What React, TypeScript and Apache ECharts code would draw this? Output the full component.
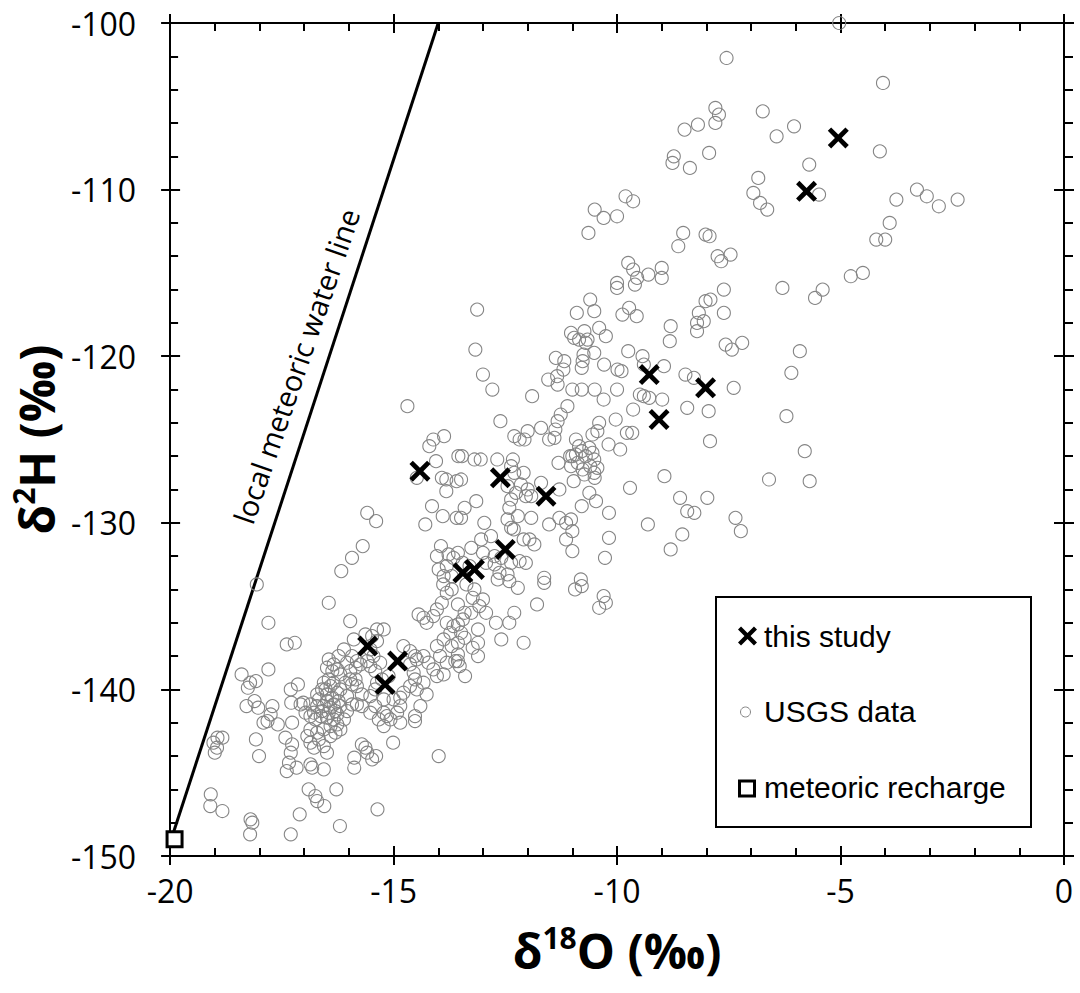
import React, { useEffect, useRef } from "react";
import * as echarts from "echarts";

// ---- data ----
const xRange = [-20, 0];
const yRange = [-150, -100];

const thisStudy: number[][] = [
  [-5.05, -106.9], [-5.76, -110.1], [-9.28, -121.1], [-8.02, -121.9], [-9.06, -123.8],
  [-14.41, -126.9], [-12.61, -127.3], [-11.59, -128.4], [-12.5, -131.6], [-13.19, -132.8],
  [-13.45, -133.0], [-15.58, -137.4], [-14.91, -138.3], [-15.19, -139.7],
];

const meteoricRecharge: number[][] = [[-19.9, -149.0]];

const lmwl: number[][] = [[-20, -149.2], [-14, -100]];

const usgsData: number[][] = [
  [-7.55, -102.1], [-7.8, -105.1], [-7.72, -105.5], [-7.8, -106.0], [-8.19, -106.1], [-8.49, -106.4],
  [-8.73, -108.0], [-8.76, -108.4], [-8.37, -108.7], [-7.94, -107.8], [-9.81, -110.4], [-9.64, -110.7],
  [-10.5, -111.2], [-10.3, -111.7], [-10.0, -111.6], [-10.64, -112.6], [-8.52, -112.6], [-8.63, -113.4],
  [-8.02, -112.7], [-7.93, -112.8], [-7.46, -113.9], [-7.75, -114.0], [-7.67, -114.3], [-9.75, -114.4],
  [-9.64, -114.8], [-9.55, -115.3], [-9.3, -115.1], [-9.0, -114.7], [-9.0, -115.3], [-10.0, -115.6],
  [-10.0, -115.9], [-9.6, -115.7], [-7.61, -116.0], [-10.6, -116.6], [-7.91, -116.6], [-8.02, -116.7],
  [-5.03, -100.0], [-4.05, -103.6], [-6.74, -105.3], [-6.04, -106.2], [-6.43, -106.8], [-4.12, -107.7],
  [-5.7, -108.5], [-6.84, -109.3], [-6.95, -110.2], [-6.8, -110.8], [-6.64, -111.2], [-5.48, -110.3],
  [-3.29, -110.0], [-3.07, -110.4], [-2.8, -111.0], [-2.38, -110.6], [-3.75, -110.6], [-3.9, -112.0],
  [-4.2, -113.0], [-4.0, -113.0], [-4.77, -115.2], [-4.5, -115.0], [-6.3, -115.9], [-5.4, -116.0],
  [-5.57, -116.5], [-5.91, -119.7], [-6.1, -121.0], [-6.21, -123.6], [-5.8, -125.7], [-6.6, -127.4],
  [-5.69, -127.5],
  [-13.13, -117.2], [-10.9, -117.4], [-10.51, -117.3], [-9.88, -117.5], [-9.73, -117.1], [-9.56, -117.6],
  [-8.17, -117.4], [-7.61, -117.4], [-8.21, -118.0], [-8.06, -117.9], [-8.21, -118.5], [-8.8, -118.2],
  [-8.82, -119.1], [-7.57, -119.3], [-7.43, -119.6], [-7.2, -119.2], [-13.17, -119.6], [-11.03, -118.6],
  [-10.96, -118.9], [-10.85, -119.0], [-10.73, -118.5], [-10.66, -119.0], [-10.7, -119.2], [-10.4, -118.3],
  [-10.25, -118.8], [-10.51, -119.8], [-10.75, -119.9], [-10.77, -120.3], [-10.79, -120.7], [-11.37, -120.1],
  [-11.18, -120.3], [-11.2, -120.8], [-11.34, -121.2], [-11.54, -121.4], [-11.33, -121.7], [-10.29, -120.5],
  [-9.99, -120.8], [-9.9, -120.9], [-9.75, -119.7], [-9.43, -120.0], [-9.4, -120.5], [-8.95, -120.6],
  [-8.47, -121.1], [-8.28, -121.3], [-7.39, -121.9], [-13.0, -121.1], [-12.79, -122.0], [-11.9, -122.4],
  [-11.0, -122.0], [-10.79, -122.0], [-10.5, -122.0], [-10.3, -122.6], [-10.0, -122.0], [-9.49, -122.3],
  [-9.4, -122.4], [-9.28, -122.5], [-8.99, -122.6], [-9.64, -123.2], [-10.03, -123.8], [-8.43, -123.1],
  [-7.95, -123.3], [-7.92, -125.1], [-11.11, -123.0], [-11.26, -123.5], [-11.33, -123.9], [-12.61, -123.9],
  [-11.7, -124.3], [-12.0, -124.5], [-12.3, -124.8], [-12.18, -125.0], [-12.07, -125.0], [-11.38, -124.4],
  [-11.52, -125.0], [-11.4, -124.9], [-10.4, -124.0], [-10.44, -124.5], [-10.55, -124.7], [-9.78, -124.6],
  [-9.66, -124.6], [-10.19, -125.3], [-9.93, -125.6], [-10.92, -125.0], [-10.85, -125.4], [-10.79, -125.7],
  [-10.92, -125.9], [-11.0, -126.0], [-10.62, -125.5], [-10.55, -125.8], [-10.7, -126.0], [-10.51, -126.2],
  [-10.6, -126.6], [-10.44, -126.7], [-10.51, -127.0], [-10.5, -127.3], [-10.77, -126.8], [-10.73, -127.1],
  [-11.05, -126.0], [-10.88, -126.4], [-11.03, -126.6], [-11.31, -126.4], [-8.94, -127.2], [-9.71, -127.9],
  [-10.97, -127.5], [-10.62, -128.2], [-10.47, -128.7], [-10.79, -129.0], [-10.18, -129.4], [-11.29, -128.0],
  [-8.59, -128.5], [-7.98, -128.5], [-8.43, -129.3], [-8.27, -129.4], [-7.35, -129.7], [-7.23, -130.5],
  [-9.31, -130.1], [-8.54, -130.7], [-10.18, -130.9], [-8.8, -131.6], [-10.27, -132.1], [-11.0, -131.7],
  [-11.29, -129.7], [-11.14, -130.0], [-11.03, -129.8], [-11.52, -130.1], [-11.0, -130.5], [-11.14, -131.0],
  [-13.47, -126.0], [-13.19, -126.2], [-13.05, -126.2], [-12.68, -126.2], [-12.33, -126.2], [-13.49, -127.4],
  [-12.37, -126.6], [-12.3, -127.0], [-12.09, -127.0], [-12.15, -127.7], [-12.0, -128.0], [-11.92, -128.4],
  [-12.45, -127.8], [-12.26, -128.2], [-12.37, -128.6], [-12.04, -128.4], [-11.7, -127.6], [-13.15, -128.7],
  [-13.41, -129.1], [-13.49, -129.7], [-12.97, -130.0], [-12.41, -129.1], [-12.45, -129.8], [-12.37, -130.3],
  [-12.22, -129.6], [-11.92, -129.7], [-12.09, -131.0], [-11.85, -131.3], [-11.96, -131.0], [-12.31, -130.4],
  [-13.04, -131.0], [-12.82, -130.8], [-13.26, -131.5], [-13.0, -131.8], [-12.74, -132.0], [-12.59, -132.1],
  [-12.93, -132.4], [-12.74, -132.5], [-12.37, -132.4], [-12.18, -132.3], [-12.04, -132.4], [-13.56, -131.8],
  [-13.45, -132.4], [-13.3, -132.6], [-12.63, -133.0], [-12.45, -133.1], [-11.63, -133.3], [-10.81, -133.4],
  [-14.69, -123.0], [-14.11, -125.0], [-14.2, -125.4], [-13.87, -124.8], [-14.05, -126.3], [-14.48, -127.3],
  [-13.92, -127.3], [-13.82, -127.4], [-13.59, -127.5], [-13.55, -126.0], [-13.82, -128.1], [-14.14, -129.0],
  [-13.9, -129.6], [-14.29, -130.1], [-13.59, -129.7], [-15.59, -129.4], [-15.39, -129.9], [-15.69, -131.4],
  [-15.93, -132.1], [-16.17, -132.9], [-13.94, -131.4], [-14.03, -132.0], [-13.77, -131.9], [-13.66, -132.1],
  [-13.99, -132.8], [-13.81, -132.6], [-13.7, -133.2], [-13.88, -133.2],
  [-18.06, -133.7], [-16.45, -134.8], [-15.97, -135.9], [-17.8, -136.0], [-17.39, -137.3], [-17.21, -137.2],
  [-18.4, -139.1], [-17.8, -138.8], [-18.21, -139.6], [-18.08, -139.5], [-18.26, -139.9], [-18.29, -141.0],
  [-18.03, -141.1], [-18.11, -140.7], [-17.71, -141.0], [-17.75, -141.5], [-17.82, -141.9], [-17.91, -142.0],
  [-17.59, -142.1], [-17.3, -140.0], [-17.14, -139.7], [-17.29, -140.8], [-17.08, -140.9], [-17.02, -140.8],
  [-17.27, -142.0], [-18.94, -142.9], [-18.83, -142.9], [-19.03, -143.2], [-19.0, -143.8], [-18.95, -143.5],
  [-18.08, -143.0], [-18.01, -144.0], [-17.42, -142.9], [-17.27, -143.3], [-17.3, -143.8], [-17.34, -144.4],
  [-17.39, -144.9], [-17.17, -144.7], [-19.09, -146.3], [-19.1, -147.0], [-18.83, -147.3], [-18.2, -147.8],
  [-18.16, -148.0], [-18.21, -148.7], [-17.3, -148.7], [-17.1, -147.5], [-16.9, -146.0], [-16.75, -146.4],
  [-16.71, -146.7], [-16.55, -147.0], [-16.28, -146.0], [-16.2, -148.2], [-15.36, -147.2], [-13.99, -144.0],
  [-15.01, -143.2], [-15.88, -144.1], [-15.88, -144.7], [-15.71, -143.3], [-15.63, -143.5], [-15.59, -143.8],
  [-15.48, -144.2], [-15.39, -144.0], [-16.82, -144.7], [-16.86, -144.5], [-16.56, -144.8],
  [-16.6, -140.0], [-16.49, -140.3], [-16.37, -140.5], [-16.49, -140.7], [-16.34, -140.9], [-16.56, -141.0],
  [-16.41, -141.1], [-16.26, -140.2], [-16.19, -140.0], [-16.08, -139.6], [-15.97, -139.4], [-15.93, -139.7],
  [-16.23, -140.7], [-16.19, -141.0], [-16.3, -141.3], [-16.45, -141.4], [-16.6, -141.3], [-16.71, -141.0],
  [-16.78, -141.4], [-16.86, -141.6], [-16.75, -141.8], [-16.63, -141.6], [-16.49, -141.7], [-16.34, -141.8],
  [-16.26, -142.1], [-16.41, -142.2], [-16.56, -142.4], [-16.71, -142.6], [-16.86, -142.4], [-16.93, -142.8],
  [-16.86, -143.2], [-16.78, -143.5], [-16.67, -143.0], [-16.56, -143.4], [-16.49, -143.8], [-16.41, -142.8],
  [-16.3, -142.6], [-16.19, -142.4], [-16.11, -141.8], [-16.52, -140.0], [-16.41, -139.8], [-16.34, -139.6],
  [-16.45, -139.4], [-16.56, -139.6], [-16.71, -140.3], [-16.67, -140.6],
  [-16.45, -138.2], [-16.34, -138.5], [-16.26, -138.8], [-16.19, -139.1], [-16.37, -138.9], [-16.49, -138.7],
  [-16.23, -138.0], [-16.11, -137.6], [-15.93, -138.0], [-16.04, -138.4], [-15.82, -138.3], [-15.97, -138.9],
  [-15.85, -138.7], [-15.74, -138.5], [-15.85, -139.4], [-15.82, -139.8], [-15.71, -140.3], [-15.71, -141.0],
  [-15.82, -140.9],
  [-15.89, -137.0], [-15.63, -136.7], [-15.48, -136.8], [-15.37, -136.4], [-15.22, -136.4], [-15.37, -137.1],
  [-15.52, -137.6], [-15.45, -138.0], [-15.59, -138.3], [-15.52, -138.6], [-15.3, -138.4], [-15.41, -138.9],
  [-15.26, -139.4], [-15.11, -139.2], [-15.37, -139.6], [-15.41, -140.0], [-15.52, -140.4], [-15.22, -140.6],
  [-15.41, -141.0], [-15.52, -141.4],
  [-15.22, -141.4], [-15.33, -141.8], [-15.15, -141.6], [-15.22, -142.2], [-15.07, -141.8], [-14.92, -141.4],
  [-14.85, -142.0], [-14.85, -141.0], [-15.0, -140.6], [-14.85, -140.5], [-14.78, -140.2], [-14.63, -139.8],
  [-14.48, -140.0], [-14.52, -139.4], [-14.55, -139.0], [-14.33, -139.6], [-14.26, -140.3], [-14.4, -141.0],
  [-14.52, -141.6], [-14.52, -141.9], [-14.63, -138.5], [-14.48, -138.2], [-14.33, -138.0], [-14.22, -138.4],
  [-14.11, -138.8], [-14.03, -139.2], [-13.88, -139.1], [-13.81, -138.4], [-13.96, -138.0], [-14.03, -137.4],
  [-13.88, -137.0], [-13.73, -136.6], [-13.66, -136.2], [-13.81, -136.0], [-13.7, -137.4], [-13.62, -138.3],
  [-14.44, -135.5], [-14.33, -135.7], [-14.26, -136.0], [-14.11, -135.6], [-14.03, -135.2], [-13.92, -134.8],
  [-13.81, -134.2], [-13.7, -134.0], [-13.89, -133.7], [-14.78, -137.4], [-14.63, -137.7], [-14.52, -138.0],
  [-16.86, -140.9], [-16.97, -141.4], [-16.04, -140.4], [-15.93, -140.9], [-16.04, -141.3], [-16.26, -141.5],
  [-13.37, -133.7], [-13.19, -134.0], [-13.56, -134.9], [-13.41, -135.4], [-13.26, -135.4], [-13.45, -135.8],
  [-13.23, -134.5], [-13.0, -134.6], [-13.08, -135.0], [-12.93, -135.4], [-13.56, -136.1], [-13.49, -136.6],
  [-13.41, -136.9], [-13.56, -137.2], [-13.56, -137.9], [-13.56, -138.3], [-13.52, -138.6], [-13.11, -136.4],
  [-13.11, -137.2], [-13.23, -137.5], [-13.11, -138.0], [-13.4, -139.2], [-12.71, -136.0], [-12.59, -137.0],
  [-12.41, -136.0], [-12.3, -135.4], [-12.09, -137.2], [-11.79, -134.9], [-12.67, -133.4], [-12.41, -133.5],
  [-12.22, -133.9], [-11.63, -133.6], [-10.94, -134.0], [-10.79, -133.8], [-10.4, -135.1], [-10.3, -134.4],
  [-10.25, -134.8],
];

const seriesNames = ["this study", "USGS data", "meteoric recharge"];
const lmwlLabel = "local meteoric water line";

// ---- styling helpers ----
const X_PATH =
  "path://M0,16L16,0L50,34L84,0L100,16L66,50L100,84L84,100L50,66L16,100L0,84L34,50Z";
const X_PTS = [
  [0, 16], [16, 0], [50, 34], [84, 0], [100, 16], [66, 50],
  [100, 84], [84, 100], [50, 66], [16, 100], [0, 84], [34, 50],
];
function xPolygon(cx: number, cy: number, size: number) {
  return X_PTS.map(([px, py]) => [cx + ((px - 50) / 100) * size, cy + ((py - 50) / 100) * size]);
}

const BLACK = "#000";
const GREY = "#858585";
const tickFont = "Open Sans";
const lineStyle = { color: BLACK, width: 2 };

function baseAxis(extra: any) {
  return {
    type: "value",
    splitLine: { show: false },
    axisLine: { show: false, onZero: false, lineStyle },
    axisLabel: { show: false },
    axisTick: { show: false },
    minorTick: { show: false },
    ...extra,
  };
}

const richTitle = {
  a: { fontFamily: "Open Sans", fontWeight: "bold", fontSize: 48, color: BLACK, lineHeight: 56 },
  b: { fontFamily: "Open Sans", fontWeight: "bold", fontSize: 30, color: BLACK, lineHeight: 30, verticalAlign: "top" },
};

export default function App() {
  const ref = useRef<HTMLDivElement>(null);
  useEffect(() => {
    if (!ref.current) return;
    const chart = echarts.init(ref.current, undefined, { renderer: "svg" });
    const xCommon = { min: xRange[0], max: xRange[1], interval: 5 };
    const yCommon = { min: yRange[0], max: yRange[1], interval: 10 };
    const legendFont = '30px "Liberation Sans"';
    const option: any = {
      animation: false,
      backgroundColor: "#fff",
      grid: { left: 167, right: 16, top: 23, bottom: 137, containLabel: false },
      xAxis: [
        baseAxis({
          ...xCommon,
          position: "bottom",
          axisLine: { show: true, onZero: false, lineStyle },
          axisTick: { show: true, inside: true, length: 10, lineStyle },
          minorTick: { show: true, splitNumber: 5, length: 8, lineStyle },
          axisLabel: { show: true, fontFamily: tickFont, fontSize: 32, color: BLACK, margin: 18 },
          name: "{a|δ}{b|18}{a|O (‰)}",
          nameLocation: "middle",
          nameGap: 66,
          nameTextStyle: { rich: richTitle },
        }),
        baseAxis({ ...xCommon, position: "bottom", axisTick: { show: true, inside: false, length: 9, lineStyle } }),
        baseAxis({
          ...xCommon,
          position: "top",
          axisLine: { show: true, onZero: false, lineStyle },
          axisTick: { show: true, inside: true, length: 10, lineStyle },
          minorTick: { show: true, splitNumber: 5, length: 8, lineStyle },
        }),
        baseAxis({ ...xCommon, position: "top", axisTick: { show: true, inside: false, length: 9, lineStyle } }),
      ],
      yAxis: [
        baseAxis({
          ...yCommon,
          position: "left",
          axisLine: { show: true, onZero: false, lineStyle },
          axisTick: { show: true, inside: true, length: 10, lineStyle },
          minorTick: { show: true, splitNumber: 5, length: 8, lineStyle },
          axisLabel: { show: true, fontFamily: tickFont, fontSize: 32, color: BLACK, margin: 34 },
          name: "{a|δ}{b|2}{a|H (‰)}",
          nameLocation: "middle",
          nameGap: 104,
          nameTextStyle: { rich: richTitle },
        }),
        baseAxis({ ...yCommon, position: "left", axisTick: { show: true, inside: false, length: 9, lineStyle } }),
        baseAxis({
          ...yCommon,
          position: "right",
          axisLine: { show: true, onZero: false, lineStyle },
          axisTick: { show: true, inside: false, length: 10, lineStyle },
          minorTick: { show: true, splitNumber: 5, length: 9, lineStyle },
        }),
        baseAxis({ ...yCommon, position: "right", axisTick: { show: true, inside: true, length: 10, lineStyle } }),
      ],
      series: [
        {
          type: "line",
          name: "lmwl",
          data: lmwl,
          showSymbol: false,
          symbol: "none",
          lineStyle: { color: BLACK, width: 3 },
          z: 1,
          silent: true,
        },
        {
          type: "scatter",
          name: seriesNames[1],
          data: usgsData,
          symbol: "circle",
          symbolSize: 13,
          itemStyle: { color: "rgba(0,0,0,0)", borderColor: GREY, borderWidth: 1.1, opacity: 1 },
          z: 2,
        },
        {
          type: "scatter",
          name: seriesNames[0],
          data: thisStudy,
          symbol: X_PATH,
          symbolSize: 21,
          itemStyle: { color: BLACK, opacity: 1 },
          z: 3,
        },
        {
          type: "scatter",
          name: seriesNames[2],
          data: meteoricRecharge,
          symbol: "rect",
          symbolSize: 15,
          itemStyle: { color: "#fff", borderColor: BLACK, borderWidth: 3, opacity: 1 },
          z: 4,
        },
      ],
      graphic: [
        {
          type: "text",
          x: 296,
          y: 366,
          rotation: (71 * Math.PI) / 180,
          z: 5,
          style: {
            text: lmwlLabel,
            x: 0,
            y: 0,
            font: '29px "Open Sans"',
            fill: BLACK,
            textAlign: "center",
            textVerticalAlign: "middle",
            align: "center",
            verticalAlign: "middle",
          },
        },
        {
          type: "rect",
          z: 10,
          shape: { x: 716, y: 597, width: 315, height: 230 },
          style: { fill: "#fff", stroke: BLACK, lineWidth: 2 },
        },
        {
          type: "polygon",
          z: 11,
          shape: { points: xPolygon(747.5, 636, 19) },
          style: { fill: BLACK },
        },
        {
          type: "text",
          z: 11,
          style: {
            text: seriesNames[0], x: 764, y: 636, font: legendFont, fill: BLACK,
            textAlign: "left", textVerticalAlign: "middle", align: "left", verticalAlign: "middle",
          },
        },
        {
          type: "circle",
          z: 11,
          shape: { cx: 745.5, cy: 712, r: 5 },
          style: { fill: "none", stroke: GREY, lineWidth: 1 },
        },
        {
          type: "text",
          z: 11,
          style: {
            text: seriesNames[1], x: 764, y: 711, font: legendFont, fill: BLACK,
            textAlign: "left", textVerticalAlign: "middle", align: "left", verticalAlign: "middle",
          },
        },
        {
          type: "rect",
          z: 11,
          shape: { x: 739.5, y: 781, width: 15, height: 15 },
          style: { fill: "#fff", stroke: BLACK, lineWidth: 3 },
        },
        {
          type: "text",
          z: 11,
          style: {
            text: seriesNames[2], x: 764, y: 787, font: legendFont, fill: BLACK,
            textAlign: "left", textVerticalAlign: "middle", align: "left", verticalAlign: "middle",
          },
        },
      ],
    };
    chart.setOption(option);
    return () => chart.dispose();
  }, []);
  return (
    <div
      ref={ref}
      style={{ position: "absolute", left: 0, top: 0, width: 1080, height: 993, background: "#fff" }}
    />
  );
}
